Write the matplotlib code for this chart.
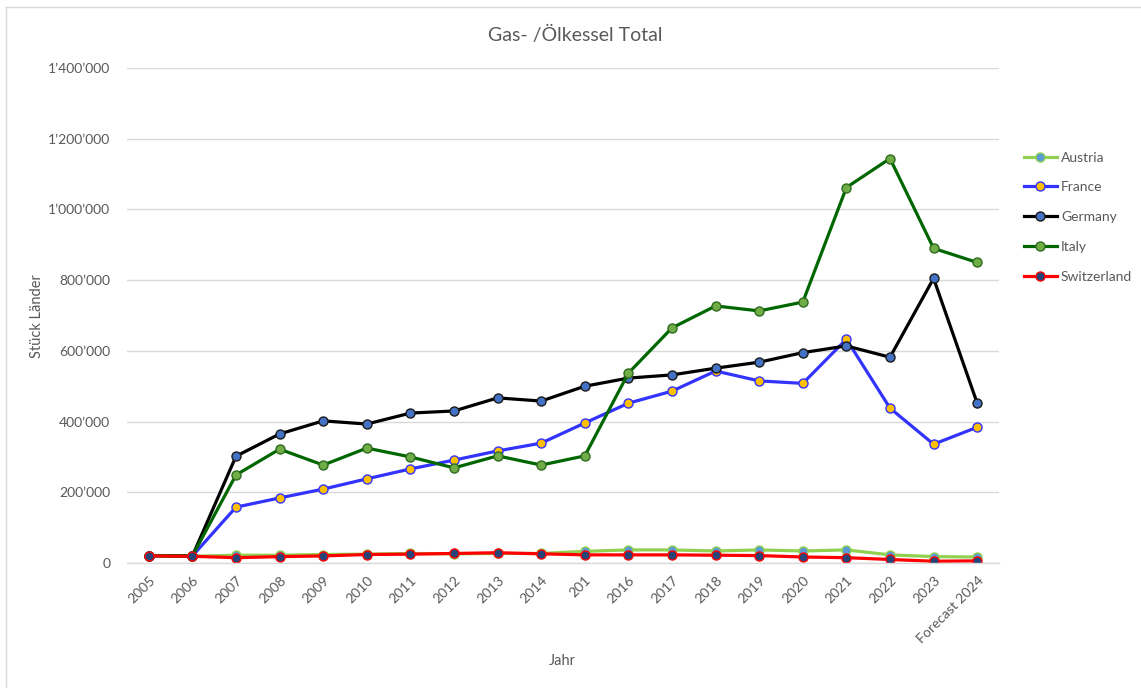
import matplotlib.pyplot as plt
from matplotlib.lines import Line2D
from matplotlib.ticker import FuncFormatter

years = ['2005', '2006', '2007', '2008', '2009', '2010', '2011', '2012', '2013', '2014',
         '201', '2016', '2017', '2018', '2019', '2020', '2021', '2022', '2023', 'Forecast 2024']

austria = [20000, 19000, 22000, 22000, 24000, 25000, 27000, 26000, 27000, 27000,
           33000, 37000, 37000, 34000, 37000, 34000, 37000, 23000, 18000, 17000]
france = [21000, 20000, 158000, 184000, 209000, 238000, 266000, 291000, 317000, 339000,
          396000, 452000, 486000, 543000, 515000, 508000, 633000, 438000, 336000, 384000]
germany = [21000, 20000, 302000, 365000, 402000, 393000, 424000, 430000, 467000, 458000,
           500000, 523000, 532000, 551000, 568000, 595000, 614000, 582000, 805000, 452000]
italy = [21000, 20000, 249000, 322000, 277000, 325000, 300000, 269000, 303000, 277000,
         303000, 537000, 665000, 727000, 713000, 738000, 1062000, 1144000, 890000, 850000]
switzerland = [20000, 19000, 15000, 18000, 20000, 24000, 25000, 27000, 29000, 26000,
               23000, 23000, 23000, 22000, 21000, 17000, 15000, 10000, 5000, 6000]

series = [
    ('Austria', austria, '#92D050', '#5B9BD5', '#92D050'),
    ('France', france, '#3333FF', '#FFC000', '#3333FF'),
    ('Germany', germany, '#000000', '#4472C4', '#1a1a1a'),
    ('Italy', italy, '#006600', '#70AD47', '#2E6B1E'),
    ('Switzerland', switzerland, '#FF0000', '#264478', '#FF0000'),
]

plt.rcParams['font.family'] = ['Lato', 'DejaVu Sans']
grey = '#595959'

fig = plt.figure(figsize=(11.41, 6.88), dpi=100)
ax = fig.add_axes([127 / 1141, 125 / 688, 872 / 1141, 495 / 688])

x = list(range(len(years)))
for name, vals, lc, mfc, mec in series:
    ax.plot(x, vals, color=lc, lw=2.3, marker='o', ms=6.5, mfc=mfc, mec=mec, mew=1.0,
            label=name, solid_joinstyle='round')

ax.set_xlim(-0.5, len(years) - 0.5)
ax.set_ylim(0, 1400000)
ax.set_yticks(range(0, 1400001, 200000))
ax.yaxis.set_major_formatter(FuncFormatter(lambda v, p: f'{int(v):,}'.replace(',', '\u2019')))
ax.set_xticks(x)
ax.set_xticklabels(years, rotation=45, ha='right', rotation_mode='anchor')
ax.tick_params(axis='both', length=0, labelsize=10, colors=grey, pad=8)
ax.tick_params(axis='y', pad=12)
ax.grid(axis='y', color='#D9D9D9', lw=1)
ax.set_axisbelow(True)
for s in ['top', 'right', 'left']:
    ax.spines[s].set_visible(False)
ax.spines['bottom'].set_color('#D9D9D9')
ax.spines['bottom'].set_linewidth(1)

fig.text(562 / 1141, 1 - 661 / 688, 'Jahr', ha='center', va='center', fontsize=10.5, color=grey)
fig.text(37 / 1141, 1 - 316 / 688, 'Stück Länder', ha='center', va='center', rotation=90,
         fontsize=10.5, color=grey)
fig.text(575 / 1141, 1 - 35 / 688, 'Gas- /Ölkessel Total', ha='center', va='center',
         fontsize=14, color=grey)

ax.legend(loc='upper left', bbox_to_anchor=(1011 / 1141, 1 - 139 / 688),
          bbox_transform=fig.transFigure, frameon=False, fontsize=10, labelcolor=grey,
          handlelength=2.4, handletextpad=0.3, labelspacing=1.28)

# chart area border (left and top edge visible)
fig.add_artist(Line2D([6 / 1141, 6 / 1141], [0, 1 - 7 / 688], transform=fig.transFigure,
                      color='#D9D9D9', lw=1))
fig.add_artist(Line2D([6 / 1141, 1], [1 - 7 / 688, 1 - 7 / 688], transform=fig.transFigure,
                      color='#D9D9D9', lw=1))

fig.savefig('out.png', dpi=100)
